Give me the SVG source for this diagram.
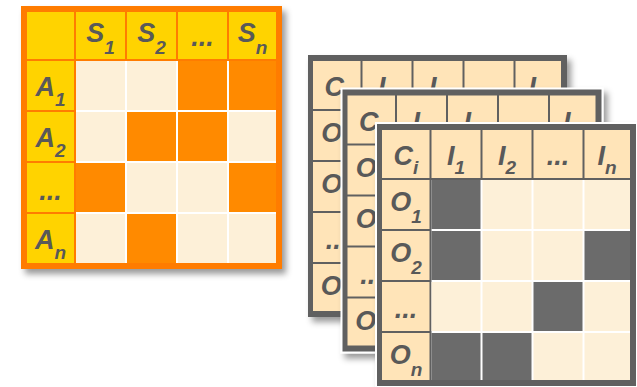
<svg xmlns="http://www.w3.org/2000/svg" width="637" height="387" viewBox="0 0 637 387">
<defs>
<filter id="sh" x="-10%" y="-10%" width="125%" height="125%">
<feDropShadow dx="4" dy="5" stdDeviation="3" flood-color="#000" flood-opacity="0.4"/>
</filter>
</defs>
<style>
.lbl{font-family:"Liberation Sans",Arial,sans-serif;font-weight:bold;font-style:italic;font-size:27px;fill:#595959;text-anchor:middle}
.sub{font-size:19px}
.yel{fill:#FFD300}
.org{fill:#FF8A00}
.crm{fill:#FDF0D8}
.pch{fill:#FFE4B8}
.drk{fill:#6B6B6B}
</style>
<rect width="637" height="387" fill="#fff"/>
<g id="connectors"/>
<g id="matrix-actions-states">
<rect x="21" y="6" width="261" height="263" fill="#FF7B00" filter="url(#sh)"/>
<rect class="yel" x="27" y="12" width="47" height="47"/>
<rect class="yel" x="76" y="12" width="49" height="47"/>
<rect class="yel" x="127" y="12" width="49" height="47"/>
<rect class="yel" x="178" y="12" width="49" height="47"/>
<rect class="yel" x="229" y="12" width="47" height="47"/>
<rect class="yel" x="27" y="61" width="47" height="49"/>
<rect class="yel" x="27" y="112" width="47" height="49"/>
<rect class="yel" x="27" y="163" width="47" height="49"/>
<rect class="yel" x="27" y="214" width="47" height="49"/>
<rect x="76" y="61" width="200" height="202" fill="#fff"/>
<rect class="crm" x="76" y="61" width="49" height="49"/>
<rect class="crm" x="127" y="61" width="49" height="49"/>
<rect class="org" x="178" y="61" width="49" height="49"/>
<rect class="org" x="229" y="61" width="47" height="49"/>
<rect class="crm" x="76" y="112" width="49" height="49"/>
<rect class="org" x="127" y="112" width="49" height="49"/>
<rect class="org" x="178" y="112" width="49" height="49"/>
<rect class="crm" x="229" y="112" width="47" height="49"/>
<rect class="org" x="76" y="163" width="49" height="49"/>
<rect class="crm" x="127" y="163" width="49" height="49"/>
<rect class="crm" x="178" y="163" width="49" height="49"/>
<rect class="org" x="229" y="163" width="47" height="49"/>
<rect class="crm" x="76" y="214" width="49" height="49"/>
<rect class="org" x="127" y="214" width="49" height="49"/>
<rect class="crm" x="178" y="214" width="49" height="49"/>
<rect class="crm" x="229" y="214" width="47" height="49"/>
<text class="lbl" x="100.5" y="42">S<tspan class="sub" dy="12">1</tspan></text>
<text class="lbl" x="151.5" y="42">S<tspan class="sub" dy="12">2</tspan></text>
<text class="lbl" x="202.5" y="46">...</text>
<text class="lbl" x="252.5" y="42">S<tspan class="sub" dy="12">n</tspan></text>
<text class="lbl" x="50.5" y="96">A<tspan class="sub" dy="10">1</tspan></text>
<text class="lbl" x="50.5" y="147">A<tspan class="sub" dy="10">2</tspan></text>
<text class="lbl" x="50.5" y="200">...</text>
<text class="lbl" x="50.5" y="249">A<tspan class="sub" dy="10">n</tspan></text>
</g>
<g id="matrix-back" transform="translate(308,55)">
<rect x="0" y="0" width="259" height="262" fill="#606060" filter="url(#sh)"/>
<rect class="pch" x="5" y="6" width="47.5" height="48"/>
<rect class="pch" x="54.5" y="6" width="49" height="48"/>
<rect class="pch" x="105.5" y="6" width="49" height="48"/>
<rect class="pch" x="156.5" y="6" width="49" height="48"/>
<rect class="pch" x="207.5" y="6" width="45.5" height="48"/>
<rect class="pch" x="5" y="56" width="47.5" height="49"/>
<rect class="pch" x="5" y="107" width="47.5" height="49"/>
<rect class="pch" x="5" y="158" width="47.5" height="49"/>
<rect class="pch" x="5" y="209" width="47.5" height="47"/>
<rect x="54.5" y="56" width="198.5" height="200" class="crm"/>
<text class="lbl" x="29" y="41">C<tspan class="sub" dy="9">i</tspan></text>
<text class="lbl" x="79" y="41">I<tspan class="sub" dy="9">1</tspan></text>
<text class="lbl" x="130" y="41">I<tspan class="sub" dy="9">2</tspan></text>
<text class="lbl" x="181" y="41">...</text>
<text class="lbl" x="230" y="41">I<tspan class="sub" dy="9">n</tspan></text>
<text class="lbl" x="29" y="87">O<tspan class="sub" dy="12">1</tspan></text>
<text class="lbl" x="29" y="138">O<tspan class="sub" dy="12">2</tspan></text>
<text class="lbl" x="29" y="194">...</text>
<text class="lbl" x="29" y="240">O<tspan class="sub" dy="12">n</tspan></text>
</g>
<g id="matrix-middle" transform="translate(342.5,89.5)">
<rect x="-2" y="-2" width="263" height="266" fill="#fff" filter="url(#sh)"/>
<rect x="0" y="0" width="259" height="262" fill="#606060"/>
<rect class="pch" x="5" y="6" width="47.5" height="48"/>
<rect class="pch" x="54.5" y="6" width="49" height="48"/>
<rect class="pch" x="105.5" y="6" width="49" height="48"/>
<rect class="pch" x="156.5" y="6" width="49" height="48"/>
<rect class="pch" x="207.5" y="6" width="45.5" height="48"/>
<rect class="pch" x="5" y="56" width="47.5" height="49"/>
<rect class="pch" x="5" y="107" width="47.5" height="49"/>
<rect class="pch" x="5" y="158" width="47.5" height="49"/>
<rect class="pch" x="5" y="209" width="47.5" height="47"/>
<rect x="54.5" y="56" width="198.5" height="200" class="crm"/>
<text class="lbl" x="29" y="41">C<tspan class="sub" dy="9">i</tspan></text>
<text class="lbl" x="79" y="41">I<tspan class="sub" dy="9">1</tspan></text>
<text class="lbl" x="130" y="41">I<tspan class="sub" dy="9">2</tspan></text>
<text class="lbl" x="181" y="41">...</text>
<text class="lbl" x="230" y="41">I<tspan class="sub" dy="9">n</tspan></text>
<text class="lbl" x="29" y="87">O<tspan class="sub" dy="12">1</tspan></text>
<text class="lbl" x="29" y="138">O<tspan class="sub" dy="12">2</tspan></text>
<text class="lbl" x="29" y="194">...</text>
<text class="lbl" x="29" y="240">O<tspan class="sub" dy="12">n</tspan></text>
</g>
<g id="matrix-front" transform="translate(377,124)">
<rect x="-2" y="-2" width="263" height="266" fill="#fff" filter="url(#sh)"/>
<rect x="0" y="0" width="259" height="262" fill="#606060"/>
<rect class="pch" x="5" y="6" width="47.5" height="48"/>
<rect class="pch" x="54.5" y="6" width="49" height="48"/>
<rect class="pch" x="105.5" y="6" width="49" height="48"/>
<rect class="pch" x="156.5" y="6" width="49" height="48"/>
<rect class="pch" x="207.5" y="6" width="45.5" height="48"/>
<rect class="pch" x="5" y="56" width="47.5" height="49"/>
<rect class="pch" x="5" y="107" width="47.5" height="49"/>
<rect class="pch" x="5" y="158" width="47.5" height="49"/>
<rect class="pch" x="5" y="209" width="47.5" height="47"/>
<rect x="54.5" y="56" width="198.5" height="200" fill="#fff"/>
<rect class="drk" x="54.5" y="56" width="49" height="49"/>
<rect class="crm" x="105.5" y="56" width="49" height="49"/>
<rect class="crm" x="156.5" y="56" width="49" height="49"/>
<rect class="crm" x="207.5" y="56" width="45.5" height="49"/>
<rect class="drk" x="54.5" y="107" width="49" height="49"/>
<rect class="crm" x="105.5" y="107" width="49" height="49"/>
<rect class="crm" x="156.5" y="107" width="49" height="49"/>
<rect class="drk" x="207.5" y="107" width="45.5" height="49"/>
<rect class="crm" x="54.5" y="158" width="49" height="49"/>
<rect class="crm" x="105.5" y="158" width="49" height="49"/>
<rect class="drk" x="156.5" y="158" width="49" height="49"/>
<rect class="crm" x="207.5" y="158" width="45.5" height="49"/>
<rect class="drk" x="54.5" y="209" width="49" height="47"/>
<rect class="drk" x="105.5" y="209" width="49" height="47"/>
<rect class="crm" x="156.5" y="209" width="49" height="47"/>
<rect class="crm" x="207.5" y="209" width="45.5" height="47"/>
<text class="lbl" x="29" y="41">C<tspan class="sub" dy="9">i</tspan></text>
<text class="lbl" x="79" y="41">I<tspan class="sub" dy="9">1</tspan></text>
<text class="lbl" x="130" y="41">I<tspan class="sub" dy="9">2</tspan></text>
<text class="lbl" x="181" y="41">...</text>
<text class="lbl" x="230" y="41">I<tspan class="sub" dy="9">n</tspan></text>
<text class="lbl" x="29" y="87">O<tspan class="sub" dy="12">1</tspan></text>
<text class="lbl" x="29" y="138">O<tspan class="sub" dy="12">2</tspan></text>
<text class="lbl" x="29" y="194">...</text>
<text class="lbl" x="29" y="240">O<tspan class="sub" dy="12">n</tspan></text>
</g>
</svg>
